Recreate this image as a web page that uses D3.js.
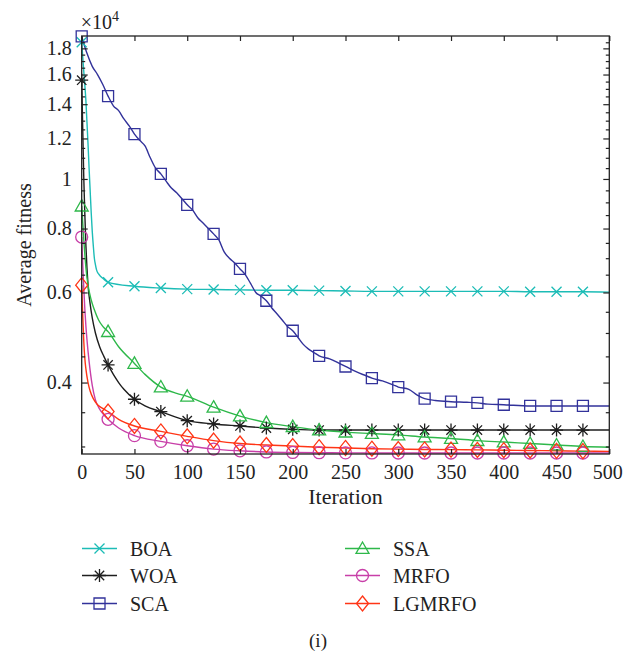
<!DOCTYPE html>
<html>
<head>
<meta charset="utf-8">
<script src="https://cdn.jsdelivr.net/npm/d3@7/dist/d3.min.js"></script>
<style>
  html, body { margin: 0; padding: 0; background: #fff; }
  svg { display: block; }
  svg text { font-family: "Liberation Serif", "Times New Roman", serif; }
</style>
</head>
<body>
<svg id="chart" width="624" height="652"></svg>
<script>
// Average fitness (x10^4) against iteration for six optimisers
const seriesNames = ["BOA", "WOA", "SCA", "SSA", "MRFO", "LGMRFO"];

const boaIter = [0, 2, 4, 6, 7, 8, 9, 10, 11, 12, 13, 14, 16, 18, 21, 25, 50, 75, 100, 125, 150, 175, 200, 225, 250, 275, 300, 325, 350, 375, 400, 425, 450, 475, 500];
const boaVal  = [1.85, 1.62, 1.42, 1.17, 1.05, 0.95, 0.86, 0.79, 0.74, 0.70, 0.68, 0.665, 0.652, 0.645, 0.637, 0.628, 0.617, 0.612, 0.609, 0.608, 0.607, 0.606, 0.606, 0.605, 0.604, 0.603, 0.603, 0.603, 0.603, 0.603, 0.603, 0.602, 0.602, 0.602, 0.601];

const woaIter = [0, 1, 2, 3, 4, 5, 6, 8, 10, 13, 17, 21, 25, 30, 35, 40, 50, 60, 75, 100, 125, 150, 175, 200, 225, 250, 275, 300, 325, 350, 375, 400, 425, 450, 475, 500];
const woaVal  = [1.56, 1.25, 1.0, 0.85, 0.74, 0.67, 0.62, 0.57, 0.535, 0.50, 0.47, 0.45, 0.433, 0.415, 0.40, 0.388, 0.371, 0.36, 0.351, 0.337, 0.332, 0.329, 0.326, 0.324, 0.323, 0.323, 0.323, 0.323, 0.323, 0.323, 0.323, 0.323, 0.323, 0.323, 0.323, 0.323];

const scaIter = [0, 5, 10, 15, 20, 25, 30, 35, 40, 45, 50, 55, 60, 65, 70, 75, 80, 85, 90, 95, 100, 105, 110, 115, 120, 125, 130, 135, 140, 145, 150, 155, 160, 165, 170, 175, 180, 185, 190, 195, 200, 205, 210, 215, 220, 225, 235, 245, 250, 260, 270, 275, 285, 295, 300, 310, 318, 325, 335, 350, 365, 375, 385, 400, 425, 450, 475, 500];
const scaVal  = [1.90, 1.76, 1.66, 1.60, 1.53, 1.452, 1.39, 1.36, 1.31, 1.27, 1.224, 1.19, 1.16, 1.10, 1.05, 1.023, 0.99, 0.96, 0.94, 0.915, 0.89, 0.87, 0.84, 0.82, 0.80, 0.781, 0.76, 0.72, 0.70, 0.685, 0.667, 0.65, 0.625, 0.60, 0.59, 0.578, 0.56, 0.545, 0.53, 0.515, 0.505, 0.49, 0.475, 0.465, 0.458, 0.451, 0.445, 0.435, 0.430, 0.42, 0.412, 0.408, 0.403, 0.396, 0.392, 0.388, 0.378, 0.372, 0.369, 0.367, 0.366, 0.365, 0.363, 0.362, 0.360, 0.360, 0.360, 0.360];

const ssaIter = [0, 1, 2, 3, 4, 6, 9, 12, 16, 20, 25, 35, 50, 60, 75, 90, 100, 125, 150, 175, 200, 225, 250, 275, 300, 325, 350, 375, 400, 425, 450, 475, 500];
const ssaVal  = [0.885, 0.82, 0.76, 0.71, 0.67, 0.62, 0.58, 0.555, 0.53, 0.515, 0.503, 0.47, 0.436, 0.415, 0.392, 0.381, 0.376, 0.358, 0.344, 0.334, 0.328, 0.323, 0.320, 0.318, 0.316, 0.313, 0.311, 0.308, 0.306, 0.304, 0.302, 0.300, 0.299];

const mrfoIter = [0, 1, 2, 3, 4, 5, 7, 10, 13, 17, 20, 25, 35, 50, 75, 100, 125, 150, 175, 200, 225, 250, 275, 300, 325, 350, 375, 400, 425, 450, 475, 500];
const mrfoVal  = [0.77, 0.68, 0.61, 0.555, 0.515, 0.485, 0.44, 0.395, 0.37, 0.355, 0.348, 0.339, 0.326, 0.315, 0.307, 0.301, 0.2965, 0.2942, 0.2927, 0.292, 0.2917, 0.2915, 0.2914, 0.2913, 0.2913, 0.2913, 0.2913, 0.2913, 0.2913, 0.2913, 0.2913, 0.2913];

const lgmrfoIter = [0, 1, 2, 3, 4, 6, 8, 11, 15, 20, 25, 35, 50, 75, 100, 125, 150, 175, 200, 225, 250, 275, 300, 325, 350, 375, 400, 425, 450, 475, 500];
const lgmrfoVal  = [0.62, 0.54, 0.48, 0.445, 0.425, 0.40, 0.385, 0.372, 0.362, 0.356, 0.351, 0.339, 0.329, 0.321, 0.314, 0.308, 0.304, 0.302, 0.3005, 0.299, 0.298, 0.297, 0.2965, 0.296, 0.2958, 0.2954, 0.295, 0.2946, 0.2942, 0.2938, 0.2935];

const xTicks = [0, 50, 100, 150, 200, 250, 300, 350, 400, 450, 500];
const yTicks = [0.4, 0.6, 0.8, 1, 1.2, 1.4, 1.6, 1.8];
const yTickLabels = ["0.4", "0.6", "0.8", "1", "1.2", "1.4", "1.6", "1.8"];
const yMinorTicks = [0.3, 0.35, 0.45, 0.5, 0.55, 0.65, 0.7, 0.75, 0.85, 0.9, 0.95, 1.05, 1.1, 1.15, 1.25, 1.3, 1.35, 1.45, 1.5, 1.55, 1.65, 1.7, 1.75, 1.85];

const seriesData = [
  { name: "BOA",    iter: boaIter,    val: boaVal,    color: "#1cbcb6", marker: "x" },
  { name: "WOA",    iter: woaIter,    val: woaVal,    color: "#1e1e1e", marker: "star" },
  { name: "SCA",    iter: scaIter,    val: scaVal,    color: "#32329a", marker: "square" },
  { name: "SSA",    iter: ssaIter,    val: ssaVal,    color: "#2eb84a", marker: "triangle" },
  { name: "MRFO",   iter: mrfoIter,   val: mrfoVal,   color: "#c83fa8", marker: "circle" },
  { name: "LGMRFO", iter: lgmrfoIter, val: lgmrfoVal, color: "#ff3516", marker: "diamond" }
];

const svg = d3.select("#chart");
const plotL = 81.7, plotR = 609.3, plotT = 36, plotB = 454;

const x = d3.scaleLinear().domain([0, 500]).range([plotL, plotR]);
const y = d3.scaleLog().domain([0.29, 1.903]).range([plotB, plotT]);

// marker path builders (centered at 0,0)
function markerPath(type) {
  const p = d3.path();
  if (type === "x") {
    const r = 5;
    p.moveTo(-r, -r); p.lineTo(r, r); p.moveTo(-r, r); p.lineTo(r, -r);
  } else if (type === "star") {
    const r = 6.5, d = r * 0.72;
    p.moveTo(-r, 0); p.lineTo(r, 0);
    p.moveTo(0, -r); p.lineTo(0, r);
    p.moveTo(-d, -d); p.lineTo(d, d);
    p.moveTo(-d, d); p.lineTo(d, -d);
  } else if (type === "square") {
    const r = 5.5;
    p.rect(-r, -r, 2 * r, 2 * r);
  } else if (type === "triangle") {
    const r = 6.5;
    p.moveTo(0, -r); p.lineTo(r, r * 0.75); p.lineTo(-r, r * 0.75); p.closePath();
  } else if (type === "circle") {
    p.arc(0, 0, 6, 0, 2 * Math.PI);
  } else if (type === "diamond") {
    const rx = 6, ry = 7.5;
    p.moveTo(0, -ry); p.lineTo(rx, 0); p.lineTo(0, ry); p.lineTo(-rx, 0); p.closePath();
  }
  return p.toString();
}

const line = d3.line()
  .x(d => x(d[0]))
  .y(d => y(d[1]))
  .curve(d3.curveMonotoneX);

const plot = svg.append("g");
plot.append("defs").append("clipPath").attr("id", "clip")
  .append("rect").attr("x", plotL).attr("y", plotT - 8).attr("width", plotR - plotL).attr("height", plotB - plotT + 8);

seriesData.forEach(s => {
  const pts = s.iter.map((it, i) => [it, s.val[i]]);
  const g = plot.append("g").attr("clip-path", "url(#clip)");
  g.append("path")
    .attr("d", line(pts))
    .attr("fill", "none")
    .attr("stroke", s.color)
    .attr("stroke-width", 1.4);
});
seriesData.forEach(s => {
  const pts = s.iter.map((it, i) => [it, s.val[i]]).filter(d => d[0] % 25 === 0 && d[0] < 500);
  plot.append("g").selectAll("path")
    .data(pts)
    .join("path")
    .attr("transform", d => `translate(${x(d[0])},${y(d[1])})`)
    .attr("d", markerPath(s.marker))
    .attr("fill", "none")
    .attr("stroke", s.color)
    .attr("stroke-width", 1.3);
});

// axes box
const axisColor = "#222";
svg.append("rect")
  .attr("x", plotL).attr("y", plotT)
  .attr("width", plotR - plotL).attr("height", plotB - plotT)
  .attr("fill", "none").attr("stroke", axisColor).attr("stroke-width", 1.3);

// x ticks, inward on bottom and top
const xAxisB = d3.axisBottom(x).tickValues(xTicks).tickSize(-5).tickPadding(11).tickFormat(d3.format("d"));
const gxb = svg.append("g").attr("transform", `translate(0,${plotB})`).call(xAxisB);
const xAxisT = d3.axisTop(x).tickValues(xTicks).tickSize(-5).tickFormat("");
const gxt = svg.append("g").attr("transform", `translate(0,${plotT})`).call(xAxisT);

// y ticks, inward on left and right, with minor ticks
const yAxisL = d3.axisLeft(y).tickValues(yTicks).tickSize(-6).tickPadding(10)
  .tickFormat((d, i) => yTickLabels[i]);
const gyl = svg.append("g").attr("transform", `translate(${plotL},0)`).call(yAxisL);
const yAxisR = d3.axisRight(y).tickValues(yTicks).tickSize(-6).tickFormat("");
const gyr = svg.append("g").attr("transform", `translate(${plotR},0)`).call(yAxisR);
const yMinL = d3.axisLeft(y).tickValues(yMinorTicks).tickSize(-3.5).tickFormat("");
const gml = svg.append("g").attr("transform", `translate(${plotL},0)`).call(yMinL);
const yMinR = d3.axisRight(y).tickValues(yMinorTicks).tickSize(-3.5).tickFormat("");
const gmr = svg.append("g").attr("transform", `translate(${plotR},0)`).call(yMinR);

[gxb, gxt, gyl, gyr, gml, gmr].forEach(g => {
  g.attr("font-family", null).attr("font-size", null);
  g.select(".domain").remove();
  g.selectAll(".tick line").attr("stroke", axisColor).attr("stroke-width", 1.2);
  g.selectAll(".tick text")
    .attr("fill", "#222")
    .style("font-size", "20px");
});
// keep the last x label inside the canvas
gxb.selectAll(".tick text").filter(d => d === 500).attr("dx", -2);

// exponent multiplier
const mult = svg.append("text")
  .attr("x", plotL - 1).attr("y", 29)
  .attr("fill", "#222")
  .style("font-size", "20px");
mult.append("tspan").text("×10");
mult.append("tspan").attr("dy", -8).style("font-size", "14px").text("4");

// axis titles
svg.append("text")
  .attr("x", (plotL + plotR) / 2).attr("y", 504)
  .attr("text-anchor", "middle")
  .attr("fill", "#222")
  .style("font-size", "22px")
  .text("Iteration");

svg.append("text")
  .attr("transform", `translate(31,${(plotT + plotB) / 2}) rotate(-90)`)
  .attr("text-anchor", "middle")
  .attr("fill", "#222")
  .style("font-size", "20px")
  .text("Average fitness");

// legend in two columns
const legendCols = [82, 345];
const legendRows = [548.5, 575.5, 603.5];
seriesData.forEach((s, i) => {
  const col = Math.floor(i / 3), row = i % 3;
  const lx = legendCols[col], ly = legendRows[row];
  const g = svg.append("g");
  g.append("line")
    .attr("x1", lx).attr("x2", lx + 35)
    .attr("y1", ly).attr("y2", ly)
    .attr("stroke", s.color).attr("stroke-width", 1.4);
  g.append("path")
    .attr("transform", `translate(${lx + 17.5},${ly})`)
    .attr("d", markerPath(s.marker))
    .attr("fill", "none").attr("stroke", s.color).attr("stroke-width", 1.3);
  g.append("text")
    .attr("x", lx + 48).attr("y", ly)
    .attr("dy", "0.35em")
    .attr("fill", "#222")
    .style("font-size", "20px")
    .text(s.name);
});

svg.append("text")
  .attr("x", 318).attr("y", 640).attr("dy", "0.35em")
  .attr("text-anchor", "middle")
  .attr("fill", "#222")
  .style("font-size", "19px")
  .text("(i)");
</script>
</body>
</html>
